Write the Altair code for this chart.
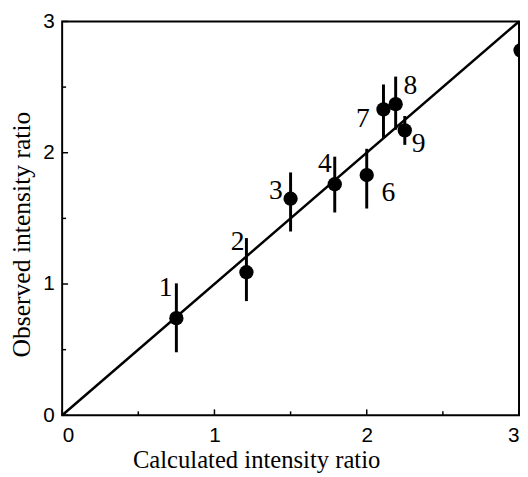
import altair as alt
import pandas as pd

# data
labels = ["1", "2", "3", "4", "6", "7", "8", "9", ""]
calc = [0.75, 1.21, 1.50, 1.79, 2.00, 2.11, 2.19, 2.25, 3.01]
obs = [0.74, 1.09, 1.65, 1.76, 1.83, 2.33, 2.37, 2.17, 2.78]
obs_lo = [0.48, 0.87, 1.40, 1.545, 1.575, 2.11, 2.175, 2.06, 2.78]
obs_hi = [1.005, 1.35, 1.85, 1.97, 2.03, 2.52, 2.58, 2.28, 2.78]

fit_x = [0, 3]
fit_y = [0, 3]

major_ticks = [0, 1, 2, 3]
minor_ticks = [0.5, 1.5, 2.5]

# label offsets (pixels) relative to each point
label_offsets = {
    "1": (-11, -30), "2": (-9, -31), "3": (-15, -8), "4": (-10, -20),
    "6": (22, 18), "7": (-21, 10), "8": (15, -18), "9": (14, 14),
}

W, H = 464, 400

pts = pd.DataFrame({"label": labels, "calc": calc, "obs": obs, "lo": obs_lo, "hi": obs_hi})
fit = pd.DataFrame({"x": fit_x, "y": fit_y})
major = pd.DataFrame({"v": major_ticks})
minor = pd.DataFrame({"v": minor_ticks})

xs = alt.Scale(domain=[0, 3], nice=False)
ys = alt.Scale(domain=[0, 3], nice=False)

xaxis = alt.Axis(values=major_ticks, format="d", grid=False, domain=False, tickSize=0, labelPadding=10,
                 labelFont="Liberation Sans", labelFontSize=21, labelColor="black",
                 title="Calculated intensity ratio", titleFont="Liberation Serif",
                 titleFontSize=25, titleFontWeight="normal", titleColor="black",
                 titleX=197, titleY=33)
yaxis = alt.Axis(values=major_ticks, format="d", grid=False, domain=False, tickSize=0, labelPadding=8,
                 labelFont="Liberation Sans", labelFontSize=21, labelColor="black",
                 title="Observed intensity ratio", titleFont="Liberation Serif",
                 titleFontSize=26, titleFontWeight="normal", titleColor="black",
                 titleX=-28, titleY=216)

line = alt.Chart(fit).mark_line(color="black", strokeWidth=2.5).encode(
    x=alt.X("x:Q", scale=xs, axis=xaxis),
    y=alt.Y("y:Q", scale=ys, axis=yaxis),
)

err = alt.Chart(pts).mark_rule(color="black", strokeWidth=3).encode(
    x=alt.X("calc:Q", scale=xs),
    y=alt.Y("lo:Q", scale=ys),
    y2="hi:Q",
)

dots = alt.Chart(pts).mark_circle(color="black", opacity=1, size=210).encode(
    x=alt.X("calc:Q", scale=xs),
    y=alt.Y("obs:Q", scale=ys),
)

xmaj = alt.Chart(major).mark_rule(color="black", strokeWidth=1.5).encode(
    x=alt.X("v:Q", scale=xs), y=alt.value(H), y2=alt.value(H - 6))
xmin = alt.Chart(minor).mark_rule(color="black", strokeWidth=1.5).encode(
    x=alt.X("v:Q", scale=xs), y=alt.value(H), y2=alt.value(H - 4))
ymaj = alt.Chart(major).mark_rule(color="black", strokeWidth=1.5).encode(
    y=alt.Y("v:Q", scale=ys), x=alt.value(0), x2=alt.value(6))
ymin = alt.Chart(minor).mark_rule(color="black", strokeWidth=1.5).encode(
    y=alt.Y("v:Q", scale=ys), x=alt.value(0), x2=alt.value(4))

layers = [line, xmaj, xmin, ymaj, ymin, err, dots]
for lab, (dx, dy) in label_offsets.items():
    layers.append(
        alt.Chart(pts).transform_filter(alt.datum.label == lab)
        .mark_text(font="Liberation Serif", fontSize=28, color="black", dx=dx, dy=dy,
                   align="center", baseline="middle")
        .encode(x=alt.X("calc:Q", scale=xs), y=alt.Y("obs:Q", scale=ys), text="label:N")
    )

chart = alt.layer(*layers).properties(
    width=W, height=H,
    background="white",
    autosize=alt.AutoSizeParams(type="none"),
    padding={"left": 55, "top": 10, "right": 1, "bottom": 59},
).configure_view(stroke="black", strokeWidth=2)

chart.save("out.html", embed_options={"renderer": "svg", "actions": False})
